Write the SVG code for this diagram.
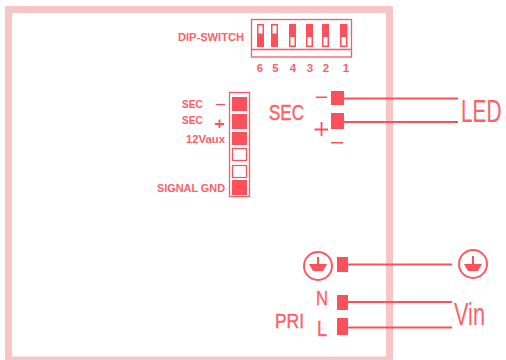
<svg xmlns="http://www.w3.org/2000/svg" width="506" height="360" viewBox="0 0 506 360">
<style>
text{font-family:"Liberation Sans",Arial,sans-serif;fill:#fc6069}
.b{font-weight:bold;font-size:11.500px}
.n{font-size:11.500px;font-weight:bold;text-anchor:middle}
.h{stroke:#fc6069;stroke-width:0.400}
.r{fill:#fc505a}
.w{fill:#fff;stroke:#fc505a;stroke-width:1.2}
.o{fill:none;stroke:#fc5a63;stroke-width:1.300}
.c{stroke:#fc505a;stroke-width:1.800;fill:none}
</style>
<rect x="8.500" y="9.500" width="381" height="350.500" fill="none" stroke="#f6c6c6" stroke-width="7"/>
<g id="dip-switch">
<rect class="o" x="251.500" y="19.500" width="100" height="37.500"/>
<line class="o" x1="251.500" y1="49.500" x2="351.500" y2="49.500"/>
<rect class="r" x="257" y="24" width="7" height="23"/><rect x="258.500" y="25.500" width="4" height="8" fill="#fff"/>
<rect class="r" x="271" y="24" width="7" height="23"/><rect x="272.500" y="25.500" width="4" height="8" fill="#fff"/>
<rect class="r" x="289" y="24" width="7" height="23"/><rect x="290.500" y="37" width="4" height="8.500" fill="#fff"/>
<rect class="r" x="306" y="24" width="7" height="23"/><rect x="307.500" y="37" width="4" height="8.500" fill="#fff"/>
<rect class="r" x="322" y="24" width="7" height="23"/><rect x="323.500" y="37" width="4" height="8.500" fill="#fff"/>
<rect class="r" x="340" y="24" width="7.500" height="23"/><rect x="341.500" y="37" width="4.500" height="8.500" fill="#fff"/>
<text class="b" x="178" y="41" textLength="66" lengthAdjust="spacingAndGlyphs">DIP-SWITCH</text>
<text class="n" x="260" y="72">6</text><text class="n" x="275.500" y="72">5</text><text class="n" x="293" y="72">4</text><text class="n" x="310" y="72">3</text><text class="n" x="326" y="72">2</text><text class="n" x="346" y="72">1</text>
</g>
<g id="aux-connector">
<rect class="o" x="229.500" y="92.500" width="20" height="104"/>
<rect class="r" x="232" y="97" width="15" height="14"/>
<rect class="r" x="232" y="114" width="15" height="15"/>
<rect class="r" x="232" y="132" width="15" height="13"/>
<rect class="w" x="232.500" y="148.500" width="14" height="12"/>
<rect class="w" x="232.500" y="165.500" width="14" height="12"/>
<rect class="r" x="232" y="180" width="15" height="15"/>
<text class="b" x="182" y="108" textLength="21" lengthAdjust="spacingAndGlyphs">SEC</text>
<text class="b" x="182" y="124" textLength="21" lengthAdjust="spacingAndGlyphs">SEC</text>
<text class="b" x="186" y="143" textLength="39" lengthAdjust="spacingAndGlyphs">12Vaux</text>
<text class="b" x="157" y="192" textLength="68" lengthAdjust="spacingAndGlyphs">SIGNAL GND</text>
<rect class="r" x="216" y="104" width="9" height="1.200"/>
<path class="c" d="M219.500 119.500V128M215 124H224"/>
</g>
<g id="sec-led">
<rect class="r" x="331" y="91" width="13" height="14"/>
<rect class="r" x="331" y="113" width="13" height="16"/>
<text class="h" x="269" y="120" style="font-size:22px" textLength="35" lengthAdjust="spacingAndGlyphs">SEC</text>
<rect class="r" x="316" y="96.500" width="11" height="1.500"/>
<path class="c" d="M314.500 129.500H328M321.500 122V136"/>
<rect class="r" x="331" y="142" width="12" height="1.500"/>
<text transform="translate(461 122) scale(0.65 1)" style="font-size:32px">LED</text>
</g>
<g id="earth-left">
<circle cx="318" cy="266" r="14" fill="none" stroke="#fc5a63" stroke-width="2"/>
<path class="r" d="M309 264H327L323 271H313Z"/><rect class="r" x="317" y="257" width="2" height="8"/>
</g>
<g id="earth-right">
<circle cx="473" cy="264" r="14" fill="none" stroke="#fc5a63" stroke-width="2"/>
<path class="r" d="M464 264H482L478 271H468Z"/><rect class="r" x="472" y="256" width="2" height="8"/>
</g>
<g id="pri-vin">
<rect class="r" x="337" y="257" width="11" height="15"/>
<rect class="r" x="337" y="295" width="11" height="15"/>
<rect class="r" x="337" y="318" width="11" height="17"/>
<text class="h" x="316" y="305" style="font-size:20px" textLength="12" lengthAdjust="spacingAndGlyphs">N</text>
<text class="h" x="317" y="336" style="font-size:22px" textLength="10" lengthAdjust="spacingAndGlyphs">L</text>
<text class="h" x="275" y="328" style="font-size:21px" textLength="29" lengthAdjust="spacingAndGlyphs">PRI</text>
<text x="454" y="325" style="font-size:31px" textLength="31" lengthAdjust="spacingAndGlyphs">Vin</text>
</g>
<g id="connectors">
<path class="c" d="M344 98.500H458M344 122H458M348 264.500H452M348 302H452M348 327.500H452"/>
</g>
</svg>
